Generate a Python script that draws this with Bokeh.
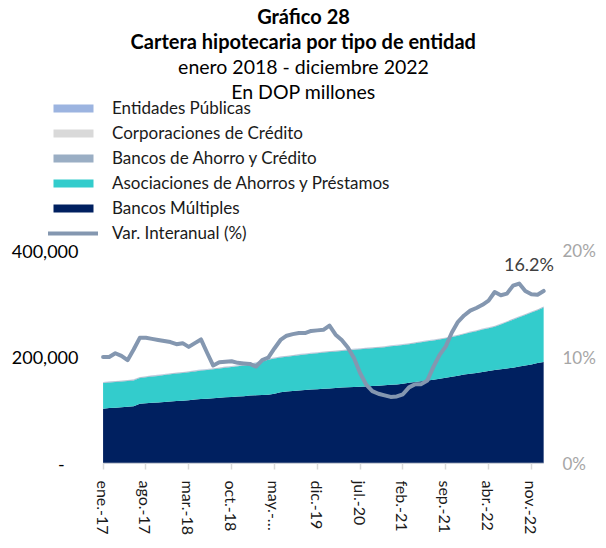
from bokeh.plotting import figure
from bokeh.models import (Range1d, LinearAxis, FixedTicker, Legend, LegendItem,
                          Label, ColumnDataSource)
from bokeh.embed import file_html
from bokeh.resources import INLINE

# ---------------- data (DOP millones) ----------------
bancos_multiples = [
    103000, 104000, 104500, 105500, 106500, 107500, 112000, 113000, 114000, 114500, 115500, 116500,
    117500, 118000, 119000, 120000, 121000, 121500, 122500, 123500, 124500, 125000, 126000, 126500,
    127500, 128000, 128500, 129000, 131000, 134000, 135000, 136000, 137000, 138000, 139000, 139500,
    140500, 141000, 142000, 142500, 143000, 143500, 144000, 144500, 145500, 146000, 147000, 148000,
    148500, 150000, 151500, 153000, 154500, 156000, 157500, 159000, 161000, 163000, 165000, 167000,
    168500, 170000, 172000, 173500, 175500, 177000, 178500, 180000, 182000, 184000, 186000, 188500,
    190500]
asociaciones = [
    48000, 48000, 48500, 48500, 48500, 48500, 48500, 49000, 49500, 50000, 50500, 51000,
    51500, 52000, 52500, 53000, 53500, 54000, 54500, 55000, 55500, 56000, 56500, 57500,
    58000, 60000, 63000, 66000, 66000, 65000, 65500, 66000, 66500, 66500, 67000, 67500,
    68000, 68500, 68500, 69000, 69500, 70000, 70500, 71000, 71000, 71500, 71500, 72000,
    72500, 72500, 72500, 73000, 73000, 73500, 73500, 74000, 74000, 74500, 75000, 76000,
    77500, 78500, 79500, 80500, 81500, 84000, 87000, 90000, 92500, 95000, 97500, 99500,
    102500]
bancos_ahorro_credito = [
    1300, 1300, 1300, 1300, 1300, 1300, 1300, 1300, 1300, 1300, 1300, 1300,
    1300, 1300, 1250, 1250, 1250, 1250, 1250, 1250, 1250, 1250, 1250, 1250,
    1250, 1250, 1250, 1250, 1250, 1250, 1200, 1200, 1200, 1200, 1200, 1200,
    1200, 1200, 1200, 1200, 1200, 1200, 1200, 1200, 1200, 1200, 1200, 1200,
    1200, 1200, 1200, 1200, 1200, 1200, 1150, 1150, 1150, 1150, 1150, 1150,
    1150, 1150, 1150, 1150, 1150, 1150, 1150, 1150, 1150, 1150, 1150, 1150,
    1150]
corporaciones = [
    450, 450, 450, 450, 450, 450, 450, 450, 450, 450, 450, 450,
    450, 450, 450, 450, 450, 450, 450, 450, 450, 450, 450, 450,
    450, 450, 450, 450, 450, 450, 450, 450, 450, 450, 450, 450,
    400, 400, 400, 400, 400, 400, 400, 400, 400, 400, 400, 400,
    400, 400, 400, 400, 400, 400, 400, 400, 400, 400, 400, 400,
    400, 400, 400, 400, 400, 400, 400, 400, 400, 400, 400, 400,
    400]
entidades_publicas = [
    250, 250, 250, 250, 250, 250, 250, 250, 250, 250, 250, 250,
    250, 250, 250, 250, 250, 250, 250, 250, 250, 250, 250, 250,
    250, 250, 250, 250, 250, 250, 250, 250, 250, 250, 250, 250,
    250, 250, 250, 250, 250, 250, 250, 250, 250, 250, 250, 250,
    250, 250, 250, 250, 250, 250, 250, 250, 250, 250, 250, 250,
    250, 250, 250, 250, 250, 250, 250, 250, 250, 250, 250, 250,
    250]
var_interanual = [
    10.0, 10.0, 10.35, 10.1, 9.7, 10.7, 11.8, 11.8, 11.7, 11.6, 11.5, 11.4,
    11.2, 11.3, 10.95, 11.3, 11.65, 10.4, 9.2, 9.5, 9.55, 9.6, 9.45, 9.4,
    9.35, 9.1, 9.7, 9.95, 10.8, 11.6, 12.0, 12.15, 12.25, 12.25, 12.45, 12.5,
    12.55, 12.95, 12.1, 11.6, 10.9, 9.9, 8.5, 7.4, 6.8, 6.55, 6.4, 6.25,
    6.3, 6.5, 7.15, 7.45, 7.45, 7.8, 9.1, 10.2, 11.0, 12.3, 13.3, 13.9,
    14.35, 14.6, 14.9, 15.3, 16.1, 15.8, 15.95, 16.7, 16.9, 16.2, 15.9, 15.85,
    16.2]

tick_positions = [0, 7, 14, 21, 28, 35, 42, 49, 56, 63, 70]
tick_labels = ["ene.-17", "ago.-17", "mar.-18", "oct.-18", "may.-\u2026", "dic.-19",
               "jul.-20", "feb.-21", "sep.-21", "abr.-22", "nov.-22"]

series_names = ["Bancos Múltiples", "Asociaciones de Ahorros y Préstamos",
                "Bancos de Ahorro y Crédito", "Corporaciones de Crédito",
                "Entidades Públicas"]
series_colors = ["#002060", "#33CCCC", "#9AAEC4", "#D9D9D9", "#9CB4E0"]
line_name = "Var. Interanual (%)"
line_color = "#8497B0"

left_ticks = [0, 200000, 400000]
left_labels = ["-\u00a0\u00a0\u00a0", "200,000", "400,000"]
right_ticks = [0, 10, 20]
right_labels = ["0%", "10%", "20%"]

titles = ["Gráfico 28", "Cartera hipotecaria por tipo de entidad",
          "enero 2018 - diciembre 2022", "En DOP millones"]
title_style = ["bold", "bold", "normal", "normal"]
title_size = ["20px", "20px", "19.5px", "19.5px"]
last_label = "16.2%"

# ---------------- layout (page pixels; figure sits at the page's top-left) ----------------
FONT = "Lato"
W, H = 598, 540
PAGE = 0
FRAME_L, FRAME_R = 40, 562     # frame edges on the page
FRAME_T, FRAME_B = 0, 463
DATA_L, DATA_R = 103.3, 549    # where the first / last month sit
Y400_PAGE = 250                # page y of the 400,000 level

ML = FRAME_L - PAGE
MR = PAGE + W - FRAME_R
MT = FRAME_T - PAGE
MB = PAGE + H - FRAME_B
frame_h = FRAME_B - FRAME_T

x_idx = list(range(len(bancos_multiples)))
n_span = x_idx[-1] - x_idx[0]
px_per = (DATA_R - DATA_L) / n_span
x_start = x_idx[0] - (DATA_L - FRAME_L) / px_per
x_end = x_idx[-1] + (FRAME_R - DATA_R) / px_per
y_scale = (FRAME_B - Y400_PAGE) / left_ticks[-1]
y_top = frame_h / y_scale
pct_top = right_ticks[-1] * y_top / left_ticks[-1]

keys = ["bm", "aap", "bac", "corp", "ep"]
src = ColumnDataSource(dict(x=x_idx, bm=bancos_multiples, aap=asociaciones,
                            bac=bancos_ahorro_credito, corp=corporaciones,
                            ep=entidades_publicas, var=var_interanual))

p = figure(width=W, height=H, output_backend="svg", toolbar_location=None,
           x_range=Range1d(x_start, x_end), y_range=Range1d(0, y_top),
           min_border_left=ML, min_border_right=MR, min_border_top=MT,
           min_border_bottom=MB, title=None)
p.outline_line_color = None
p.xgrid.visible = False
p.ygrid.visible = False
p.extra_y_ranges = {"pct": Range1d(0, pct_top)}

areas = p.varea_stack(stackers=keys, x="x", color=series_colors, source=src)
# category axis baseline, spanning the data only
p.segment(x0=x_idx[0], x1=x_idx[-1], y0=0, y1=0, line_color="#D9D9D9", line_width=1.5)
ln = p.line(x="x", y="var", y_range_name="pct", source=src, line_color=line_color,
            line_width=4, line_join="round", line_cap="round")

xa = p.xaxis[0]
xa.ticker = FixedTicker(ticks=tick_positions)
xa.major_label_overrides = dict(zip(tick_positions, tick_labels))
xa.major_label_orientation = "vertical"
xa.axis_line_color = None
xa.major_tick_line_color = "#D9D9D9"
xa.major_tick_line_width = 1.5
xa.major_tick_in = 0
xa.major_tick_out = 6
xa.minor_tick_line_color = None
xa.major_label_standoff = 11
xa.major_label_text_font = FONT
xa.major_label_text_font_size = "16px"
xa.major_label_text_color = "#1a1a1a"

ya = p.yaxis[0]
ya.ticker = FixedTicker(ticks=left_ticks)
ya.major_label_overrides = dict(zip(left_ticks, left_labels))
ya.axis_line_color = None
ya.major_tick_line_color = None
ya.major_tick_out = 0
ya.major_tick_in = 0
ya.minor_tick_line_color = None
ya.major_label_standoff = -int(round(DATA_L - 25 - FRAME_L))
ya.major_label_text_font = FONT
ya.major_label_text_font_size = "18px"
ya.major_label_text_color = "#000000"

ra = LinearAxis(y_range_name="pct", ticker=FixedTicker(ticks=right_ticks))
ra.major_label_overrides = dict(zip(right_ticks, right_labels))
ra.axis_line_color = None
ra.major_tick_line_color = None
ra.major_tick_out = 0
ra.major_tick_in = 0
ra.minor_tick_line_color = None
ra.major_label_standoff = 6
ra.major_label_text_font = FONT
ra.major_label_text_font_size = "17px"
ra.major_label_text_color = "#A6A6A6"
p.add_layout(ra, "right")

# legend
items = [LegendItem(label=series_names[i], renderers=[areas[i]]) for i in [4, 3, 2, 1, 0]]
items.append(LegendItem(label=line_name, renderers=[ln]))
legend = Legend(items=items, location=(48 - FRAME_L, FRAME_B - 243), orientation="vertical",
                glyph_width=50, glyph_height=10, label_standoff=14,
                label_text_font=FONT, label_text_font_size="17px",
                label_text_color="#1a1a1a", label_height=19, spacing=4,
                padding=0, margin=0, border_line_color=None,
                background_fill_alpha=0)
p.add_layout(legend)

# titles (screen units measured from the frame's bottom-left)
title_page_y = [15, 40, 66, 91]
for t, st, sz, yp in zip(titles, title_style, title_size, title_page_y):
    p.add_layout(Label(x=303 - FRAME_L, y=FRAME_B - yp, x_units="screen", y_units="screen",
                       text=t, text_align="center", text_baseline="middle",
                       text_font=FONT, text_font_style=st, text_font_size=sz,
                       text_color="#000000"))

p.add_layout(Label(x=x_idx[-1] - 2.4, y=var_interanual[-1] + 2.5, y_range_name="pct",
                   text=last_label, text_align="center", text_baseline="middle",
                   text_font=FONT, text_font_size="18px", text_color="#404040"))

open("out.html", "w").write(file_html(p, INLINE))
